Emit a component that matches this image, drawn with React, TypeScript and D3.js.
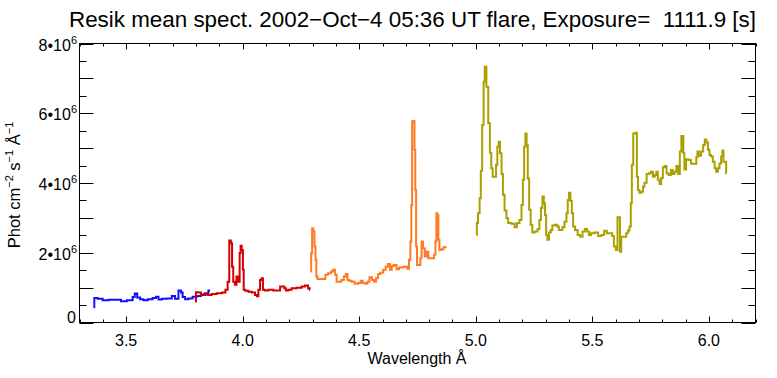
import React from "react";
import * as d3 from "d3";

// ---- data ----
const blueWl = [3.360,3.367,3.389,3.410,3.439,3.474,3.482,3.524,3.532,3.542,3.553,3.567,3.582,3.603,3.624,3.632,3.646,3.660,3.689,3.703,3.717,3.732,3.739,3.746,3.760,3.774,3.796,3.810,3.832,3.846,3.860];
const blueVal = [0.44,0.70,0.68,0.64,0.65,0.65,0.61,0.64,0.73,0.83,0.72,0.67,0.64,0.67,0.70,0.74,0.66,0.68,0.69,0.76,0.68,0.92,0.86,0.73,0.67,0.69,0.74,0.76,0.79,0.84,0.92];

const redWl = [3.796,3.803,3.817,3.825,3.839,3.860,3.874,3.903,3.920,3.932,3.939,3.946,3.953,3.956,3.963,3.970,3.977,3.985,3.989,3.993,3.999,4.003,4.006,4.017,4.032,4.046,4.060,4.063,4.072,4.077,4.085,4.089,4.103,4.117,4.146,4.175,4.182,4.189,4.203,4.217,4.246,4.260,4.275,4.286,4.289];
const redVal = [0.60,0.87,0.86,0.79,0.82,0.79,0.82,0.84,0.86,0.94,1.17,2.35,2.27,1.60,1.17,1.08,1.32,1.17,1.99,2.20,2.08,1.51,0.94,0.91,0.88,0.86,0.79,0.75,0.94,1.22,1.27,0.94,0.92,0.94,0.92,1.03,0.98,0.92,0.94,0.98,1.00,1.03,1.06,0.98,0.94];

const orangeWl = [4.292,4.296,4.300,4.306,4.310,4.315,4.317,4.325,4.353,4.357,4.375,4.382,4.393,4.400,4.406,4.417,4.429,4.439,4.446,4.453,4.460,4.475,4.486,4.503,4.510,4.520,4.532,4.539,4.549,4.560,4.567,4.577,4.585,4.596,4.610,4.617,4.628,4.636,4.643,4.653,4.667,4.675,4.703,4.710,4.717,4.722,4.725,4.729,4.735,4.739,4.742,4.746,4.750,4.760,4.765,4.770,4.777,4.785,4.793,4.800,4.817,4.825,4.829,4.833,4.837,4.842,4.846,4.858,4.865,4.875];
const orangeVal = [1.46,1.99,2.70,2.61,2.18,1.80,1.32,1.25,1.25,1.37,1.41,1.46,1.51,1.37,1.17,1.17,1.22,1.32,1.39,1.22,1.20,1.17,1.11,1.13,1.20,1.13,1.11,1.17,1.30,1.22,1.17,1.27,1.39,1.43,1.51,1.60,1.68,1.51,1.62,1.65,1.53,1.58,1.60,1.54,1.80,2.32,3.37,5.76,5.78,4.95,3.80,2.18,1.65,1.65,1.84,2.32,2.13,1.89,2.03,1.84,1.84,1.94,2.32,3.13,3.08,2.37,2.08,2.10,2.16,2.16];

const oliveWl = [5.003,5.006,5.013,5.020,5.023,5.032,5.035,5.042,5.049,5.058,5.063,5.070,5.075,5.085,5.089,5.096,5.100,5.108,5.113,5.120,5.127,5.136,5.142,5.163,5.170,5.182,5.193,5.199,5.205,5.210,5.216,5.220,5.226,5.232,5.239,5.246,5.260,5.270,5.276,5.283,5.289,5.295,5.299,5.305,5.310,5.318,5.325,5.332,5.346,5.353,5.360,5.368,5.375,5.386,5.392,5.397,5.403,5.409,5.415,5.420,5.432,5.442,5.453,5.463,5.472,5.482,5.489,5.500,5.518,5.532,5.546,5.556,5.568,5.582,5.589,5.596,5.606,5.610,5.617,5.620,5.628,5.642,5.649,5.656,5.663,5.667,5.672,5.679,5.689,5.693,5.699,5.705,5.715,5.720,5.727,5.739,5.746,5.756,5.764,5.772,5.777,5.785,5.792,5.799,5.806,5.815,5.822,5.832,5.842,5.849,5.856,5.865,5.872,5.879,5.885,5.889,5.892,5.898,5.906,5.918,5.929,5.943,5.949,5.953,5.961,5.972,5.979,5.986,5.993,5.999,6.006,6.013,6.021,6.028,6.035,6.042,6.049,6.056,6.060,6.065,6.072,6.076];
const oliveVal = [2.51,2.85,3.13,3.56,4.35,5.66,6.90,7.33,6.76,5.71,4.87,4.42,4.18,4.18,4.52,5.04,5.18,4.85,4.26,3.66,3.21,2.99,2.85,2.83,2.73,2.85,2.94,3.37,4.09,5.04,5.42,5.09,4.13,3.23,2.80,2.58,2.61,2.68,2.94,3.28,3.61,3.42,3.08,2.51,2.37,2.58,2.65,2.78,2.80,2.75,2.65,2.65,2.73,2.89,3.13,3.51,3.72,3.49,3.13,2.75,2.65,2.51,2.46,2.61,2.68,2.61,2.51,2.56,2.58,2.48,2.51,2.63,2.56,2.56,2.48,2.18,2.08,3.02,3.02,2.03,2.46,2.46,2.56,2.64,2.75,3.42,4.52,5.42,5.44,4.18,3.80,3.72,3.75,3.89,4.01,4.26,4.28,4.32,4.18,4.23,4.32,4.09,3.97,4.14,4.45,4.49,4.28,4.23,4.37,4.26,4.32,4.49,4.26,4.90,5.35,5.35,4.85,4.39,4.68,4.66,4.55,4.55,4.74,4.90,4.78,4.90,5.09,5.25,5.16,4.95,4.80,4.76,4.61,4.42,4.32,4.42,4.56,4.76,4.93,4.61,4.61,4.28];

const seriesColors = ["#1010ff", "#d40000", "#ff7a22", "#aaa000"];
const seriesScale = 1e6;

const xTickLabels = ["3.5", "4.0", "4.5", "5.0", "5.5", "6.0"];
const yTickValues = [0, 2, 4, 6, 8];
const title = "Resik mean spect. 2002\u2212Oct\u22124 05:36 UT flare, Exposure=\u00a0 1111.9 [s]";

export default function App() {
  const W = 777, H = 378;
  const x = d3.scaleLinear().domain([3.3, 6.2]).range([79.5, 755.5]);
  const y = d3.scaleLinear().domain([0, 8e6]).range([322.5, 43.5]);

  const series = [
    [blueWl, blueVal],
    [redWl, redVal],
    [orangeWl, orangeVal],
    [oliveWl, oliveVal],
  ];
  const line = d3
    .line<[number, number]>()
    .x((d) => x(d[0]))
    .y((d) => y(d[1] * seriesScale))
    .curve(d3.curveStep);

  const xMinor = d3.range(33, 63).map((v) => v / 10);
  const yMinor = d3.range(0, 17).map((v) => v * 0.5e6);
  const font = "'Liberation Sans', Arial, Helvetica, sans-serif";
  const [x0, x1] = x.range();
  const [yb, yt] = y.range();

  return (
    <svg width={W} height={H} style={{ position: "absolute", left: 0, top: 0, background: "#fff" }} fontFamily={font}>
      <rect x={0} y={0} width={W} height={H} fill="#fff" />
      <text x={69} y={27} fontSize={22} textLength={687} lengthAdjust="spacingAndGlyphs" fill="#000" style={{ whiteSpace: "pre" }}>
        {title}
      </text>

      {series.map(([wl, val], i) => (
        <path
          key={i}
          d={line(wl.map((w, j) => [w, val[j]] as [number, number])) || ""}
          fill="none"
          stroke={seriesColors[i]}
          strokeWidth={2}
          strokeLinejoin="miter"
        />
      ))}

      {/* frame */}
      <rect x={x0} y={yt} width={x1 - x0} height={yb - yt} fill="none" stroke="#000" strokeWidth={1} />

      {/* x ticks */}
      {xMinor.map((v, i) => {
        const major = Math.abs(v * 2 - Math.round(v * 2)) < 1e-6;
        const len = major ? 6 : 3;
        const px = Math.round(x(v)) + 0.5;
        return (
          <g key={"xt" + i}>
            <line x1={px} x2={px} y1={yb} y2={yb - len} stroke="#000" strokeWidth={1} />
            <line x1={px} x2={px} y1={yt} y2={yt + len} stroke="#000" strokeWidth={1} />
          </g>
        );
      })}
      {xTickLabels.map((t) => (
        <text key={"xl" + t} x={x(+t)} y={346} fontSize={16} textAnchor="middle" fill="#000">
          {t}
        </text>
      ))}
      <text x={417} y={364} fontSize={16} textAnchor="middle" fill="#000">
        Wavelength Å
      </text>

      {/* y ticks */}
      {yMinor.map((v, i) => {
        const major = i % 2 === 0;
        const len = major ? 14 : 7;
        const py = Math.round(y(v)) + 0.5;
        return (
          <g key={"yt" + i}>
            <line x1={x0} x2={x0 + len} y1={py} y2={py} stroke="#000" strokeWidth={1} />
            <line x1={x1} x2={x1 - len} y1={py} y2={py} stroke="#000" strokeWidth={1} />
          </g>
        );
      })}
      {yTickValues.map((v) =>
        v === 0 ? (
          <text key="y0" x={76} y={323} fontSize={16} textAnchor="end" fill="#000">
            0
          </text>
        ) : (
          <text key={"yl" + v} x={77} y={y(v * 1e6) + 7} fontSize={16} textAnchor="end" fill="#000">
            {v}•10
            <tspan fontSize={11} dy={-7}>6</tspan>
          </text>
        )
      )}
      <text transform="translate(20,185) rotate(-90)" fontSize={16.5} textAnchor="middle" fill="#000">
        Phot cm
        <tspan fontSize={11} dy={-7}>−2</tspan>
        <tspan dy={7}> s</tspan>
        <tspan fontSize={11} dy={-7}>−1</tspan>
        <tspan dy={7}> Å</tspan>
        <tspan fontSize={11} dy={-7}>−1</tspan>
      </text>
    </svg>
  );
}
